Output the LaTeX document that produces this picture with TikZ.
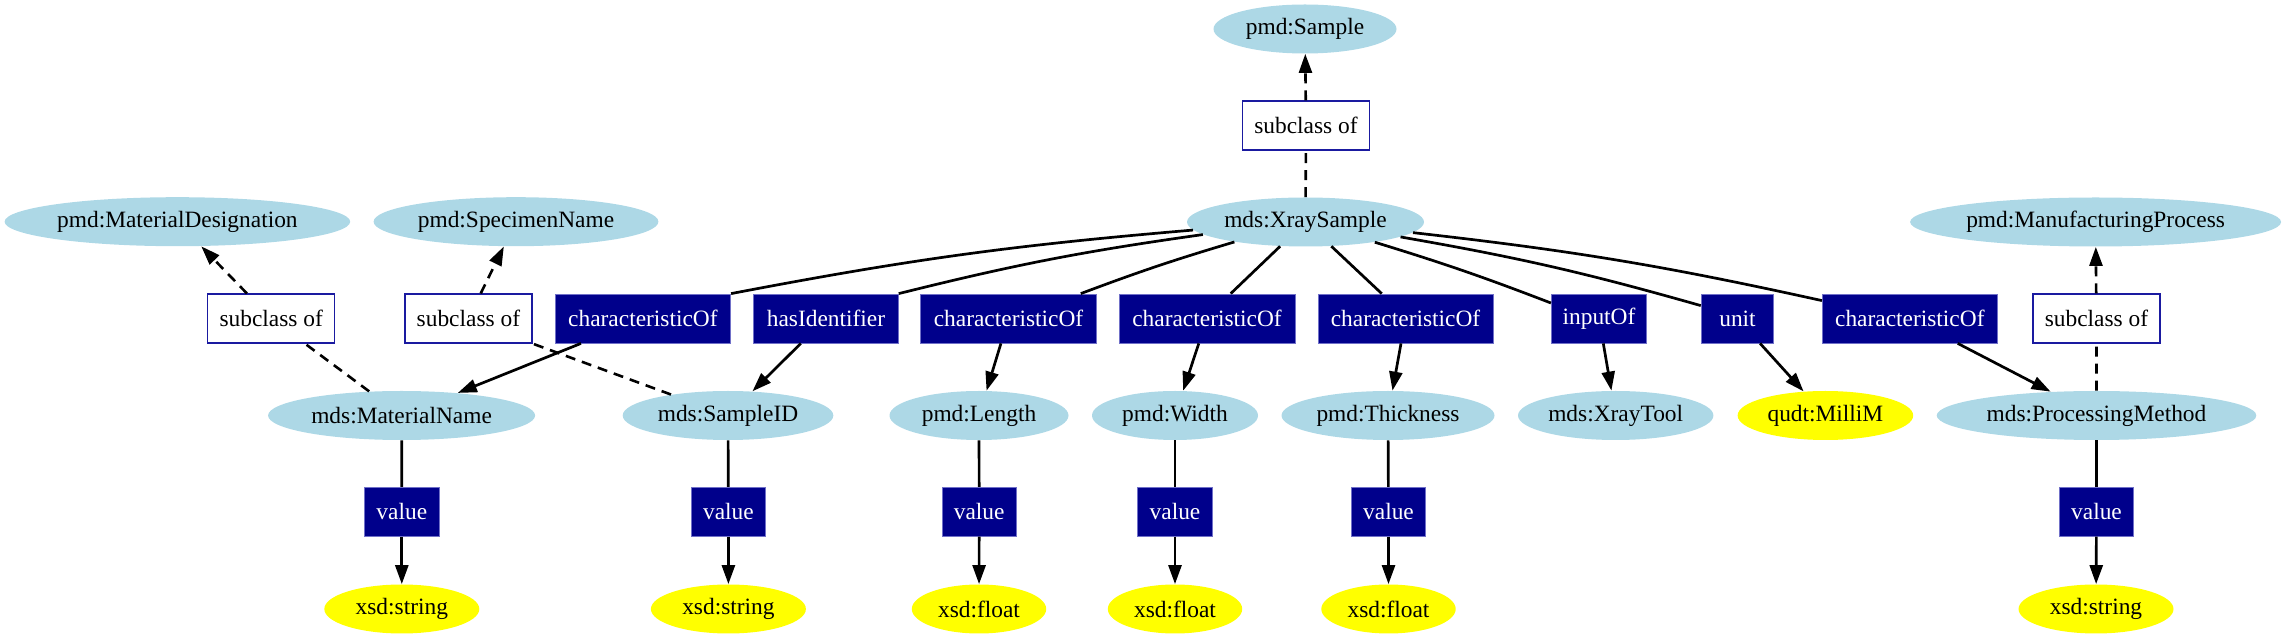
\documentclass[tikz,border=0pt]{standalone}
\usepackage{fontspec}
\setmainfont{Liberation Serif}
\usetikzlibrary{shapes.geometric,arrows.meta}
\definecolor{lb}{HTML}{ADD8E6}
\definecolor{yel}{HTML}{FFFF00}
\definecolor{nv}{HTML}{00008B}
\definecolor{nvb}{HTML}{7070C8}
\definecolor{sb}{HTML}{1A1AA0}
\begin{document}
\begin{tikzpicture}[x=0.5pt,y=-0.5pt,
  every node/.style={font=\fontsize{11.7}{14}\selectfont, inner sep=0pt},
  cls/.style={ellipse, fill=lb, minimum height=24.5pt},
  lit/.style={ellipse, fill=yel, minimum height=24.5pt},
  rel/.style={rectangle, fill=nv, draw=nvb, line width=0.4pt, text=white, minimum height=24.5pt},
  subc/.style={rectangle, fill=white, draw=sb, line width=0.6pt, minimum width=63.5pt, minimum height=24.5pt},
  valbox/.style={rel, minimum width=37.25pt},
  edge/.style={line width=1.35pt},
  tip/.style={-{Triangle[length=9.5pt,width=6.5pt]}},
  arr/.style={edge, tip},
  dsh/.style={line width=1.3pt, dash pattern=on 5pt off 3.5pt}]
\useasboundingbox (0,0) rectangle (2287,635);

% row 1-2
\node[cls, minimum width=91.5pt] (ps) at (1305,29) {pmd:Sample};
\node[subc] (sc0) at (1306,125.5) {subclass of};
% row 3
\node[cls, minimum width=172.8pt] (md) at (177.4,221.7) {pmd:MaterialDesignation};
\node[cls, minimum width=142.4pt] (sn) at (516,221.7) {pmd:SpecimenName};
\node[cls, minimum width=118.5pt] (xs) at (1305.5,222) {mds:XraySample};
\node[cls, minimum width=185.5pt] (mp) at (2095.6,222) {pmd:ManufacturingProcess};
% row 4 (relation boxes)
\node[subc] (sc1) at (271.2,318.5) {subclass of};
\node[subc] (sc2) at (468.4,318.5) {subclass of};
\node[rel, minimum width=87.8pt] (cmn) at (642.9,318.5) {characteristicOf};
\node[rel, minimum width=72.35pt] (hid) at (826,318.5) {hasIdentifier};
\node[rel, minimum width=87.9pt] (cl) at (1008.5,318.5) {characteristicOf};
\node[rel, minimum width=88pt] (cw) at (1207,318.5) {characteristicOf};
\node[rel, minimum width=87.5pt] (ct) at (1405.5,318.5) {characteristicOf};
\node[rel, minimum width=47.7pt] (io) at (1599,318.5) {inputOf};
\node[rel, minimum width=36.35pt] (un) at (1737.5,318.5) {unit};
\node[rel, minimum width=87.5pt] (cpm) at (1909.8,318.5) {characteristicOf};
\node[subc] (sc3) at (2096.4,318.5) {subclass of};
% row 5
\node[cls, minimum width=133.5pt] (mn) at (401.6,415.5) {mds:MaterialName};
\node[cls, minimum width=105.3pt] (sid) at (728,415.5) {mds:SampleID};
\node[cls, minimum width=89.5pt] (len) at (979,415.5) {pmd:Length};
\node[cls, minimum width=83pt] (wid) at (1175,415.5) {pmd:Width};
\node[cls, minimum width=106.5pt] (thk) at (1388,415.5) {pmd:Thickness};
\node[cls, minimum width=97.7pt] (xt) at (1615.7,415.5) {mds:XrayTool};
\node[lit, minimum width=87.8pt] (mm) at (1825.4,415.5) {qudt:MilliM};
\node[cls, minimum width=159.8pt] (pm) at (2096.5,415.5) {mds:ProcessingMethod};
% row 6 (value boxes)
\node[valbox] (v1) at (401.8,511.7) {value};
\node[valbox] (v2) at (728.4,511.7) {value};
\node[valbox] (v3) at (979.2,511.7) {value};
\node[valbox] (v4) at (1175,511.7) {value};
\node[valbox] (v5) at (1388.5,511.7) {value};
\node[valbox] (v6) at (2096.5,511.7) {value};
% row 7 (literals)
\node[lit, minimum width=77.5pt] (l1) at (401.8,609) {xsd:string};
\node[lit, minimum width=77.5pt] (l2) at (728.4,609) {xsd:string};
\node[lit, minimum width=67.2pt] (l3) at (979,609) {xsd:float};
\node[lit, minimum width=67.2pt] (l4) at (1175,609) {xsd:float};
\node[lit, minimum width=67.2pt] (l5) at (1388.5,609) {xsd:float};
\node[lit, minimum width=77.5pt] (l6) at (2096,609) {xsd:string};

% subclass edges
\draw[dsh] (xs) -- (sc0);
\draw[dsh, tip] (sc0) -- (ps);
\draw[dsh] (mn) -- (sc1);
\draw[dsh, tip] (sc1) -- (md);
\draw[dsh] (sid) -- (sc2.south east);
\draw[dsh, tip] (sc2) -- (sn);
\draw[dsh] (pm) -- (sc3);
\draw[dsh, tip] (sc3) -- (mp);

% edges from XraySample
\draw[edge] (xs) to[bend right=3] (cmn.north east);
\draw[edge] (xs) to[bend right=3] (hid.north east);
\draw[edge] (xs) to[bend right=2] ([xshift=-8pt]cl.north east);
\draw[edge] (xs) -- ([xshift=11.85pt]cw.north);
\draw[edge] (xs) -- ([xshift=-11.9pt]ct.north);
\draw[edge] (xs) to[bend left=2] ([yshift=-4.7pt]io.north west);
\draw[edge] (xs) to[bend left=3] ([yshift=-6pt]un.north west);
\draw[edge] (xs) to[bend left=3] ([yshift=-3.5pt]cpm.north west);

% relation to targets
\draw[arr] (cmn) -- (mn);
\draw[arr] (hid) -- (sid);
\draw[arr] (cl) -- (len);
\draw[arr] (cw) -- (wid);
\draw[arr] (ct) -- (thk);
\draw[arr] (io) -- (xt);
\draw[arr] (un) -- (mm);
\draw[arr] (cpm) -- (pm);

% value edges
\draw[edge] (mn) -- (v1);  \draw[arr] (v1) -- (l1);
\draw[edge] (sid) -- (v2); \draw[arr] (v2) -- (l2);
\draw[edge] (len) -- (v3); \draw[arr] (v3) -- (l3);
\draw[edge] (wid) -- (v4); \draw[arr] (v4) -- (l4);
\draw[edge] (thk) -- (v5); \draw[arr] (v5) -- (l5);
\draw[edge] (pm) -- (v6);  \draw[arr] (v6) -- (l6);
\end{tikzpicture}
\end{document}
